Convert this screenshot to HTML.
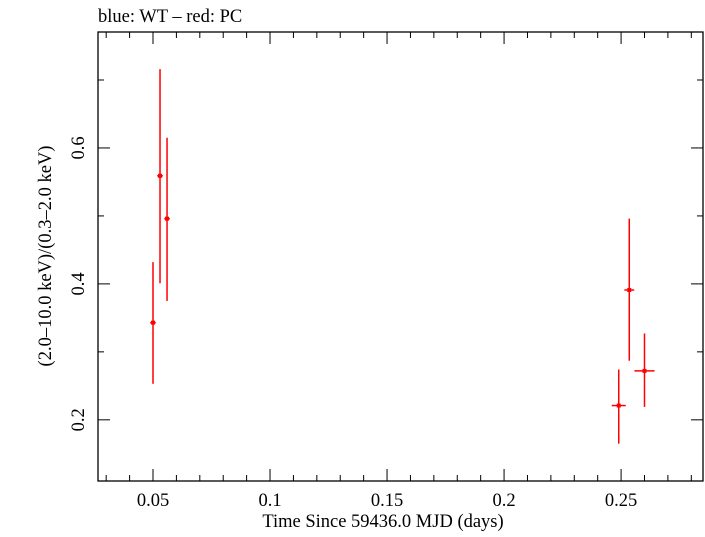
<!DOCTYPE html>
<html><head><meta charset="utf-8"><style>
body{margin:0;background:#fff}
svg text{font-family:"Liberation Serif",serif;fill:#000}
</style></head><body>
<svg id="chart" width="705" height="532" xmlns="http://www.w3.org/2000/svg">
<text x="98" y="22" font-size="18.5">blue: WT – red: PC</text>
<rect x="98" y="32" width="605" height="449" fill="none" stroke="#000" stroke-width="1.3"/>
<g id="axes"></g>
<g id="marks"></g>
<text x="383" y="527" font-size="18.5" text-anchor="middle">Time Since 59436.0 MJD (days)</text>
<text transform="translate(51,256) rotate(-90)" font-size="18.5" text-anchor="middle">(2.0–10.0 keV)/(0.3–2.0 keV)</text>
</svg>
<script>
const times=[0.050,0.053,0.056,0.249,0.2535,0.260];
const timeErr=[0.0012,0.0012,0.0012,0.003,0.0021,0.0043];
const ratios=[0.343,0.559,0.496,0.221,0.391,0.272];
const ratioHi=[0.432,0.716,0.615,0.274,0.496,0.327];
const ratioLo=[0.253,0.401,0.375,0.165,0.287,0.219];
const xTicks=[0.05,0.1,0.15,0.2,0.25];
const xTickLabels=["0.05","0.1","0.15","0.2","0.25"];
const yTicks=[0.2,0.4,0.6];
const yTickLabels=["0.2","0.4","0.6"];
const L=98,R=703,T=32,B=481,X0=0.0265,X1=0.285,Y0=0.110,Y1=0.7706;
const sx=v=>L+(v-X0)/(X1-X0)*(R-L);
const sy=v=>B-(v-Y0)/(Y1-Y0)*(B-T);
const NS="http://www.w3.org/2000/svg";
function mk(tag,a,p){const e=document.createElementNS(NS,tag);for(const k in a)e.setAttribute(k,a[k]);p.appendChild(e);return e;}
const ax=document.getElementById('axes'),mg=document.getElementById('marks');
for(let i=3;i<=28;i++){const v=i/100;const x=sx(v);const major=i%5===0;const len=major?12:6;
 const t1=mk('line',{x1:x,x2:x,y1:B,y2:B-len,stroke:'#000','stroke-width':1},ax);
 
 const t2=mk('line',{x1:x,x2:x,y1:T,y2:T+len,stroke:'#000','stroke-width':1},ax);
 }
xTicks.forEach((v,i)=>{const t=mk('text',{x:sx(v),y:506,'font-size':18.5,'text-anchor':'middle'},ax);t.textContent=xTickLabels[i];
 });
for(let i=2;i<=7;i++){const v=i/10;const y=sy(v);const major=i%2===0;const len=major?12:6;
 const t1=mk('line',{x1:L,x2:L+len,y1:y,y2:y,stroke:'#000','stroke-width':1},ax);
 
 const t2=mk('line',{x1:R,x2:R-len,y1:y,y2:y,stroke:'#000','stroke-width':1},ax);
 }
yTicks.forEach((v,i)=>{const t=mk('text',{transform:`translate(84,${sy(v)}) rotate(-90)`,'font-size':18.5,'text-anchor':'middle'},ax);t.textContent=yTickLabels[i];
 });
times.forEach((t,i)=>{const g=mk('g',{},mg);
 
 mk('line',{x1:sx(t),x2:sx(t),y1:sy(ratioHi[i]),y2:sy(ratioLo[i]),stroke:'#f00','stroke-width':1.5},g);
 mk('line',{x1:sx(t-timeErr[i]),x2:sx(t+timeErr[i]),y1:sy(ratios[i]),y2:sy(ratios[i]),stroke:'#f00','stroke-width':1.5},g);
 mk('rect',{x:sx(t)-2,y:sy(ratios[i])-2,width:4,height:4,fill:'#f00'},g);});
</script>
</body></html>
